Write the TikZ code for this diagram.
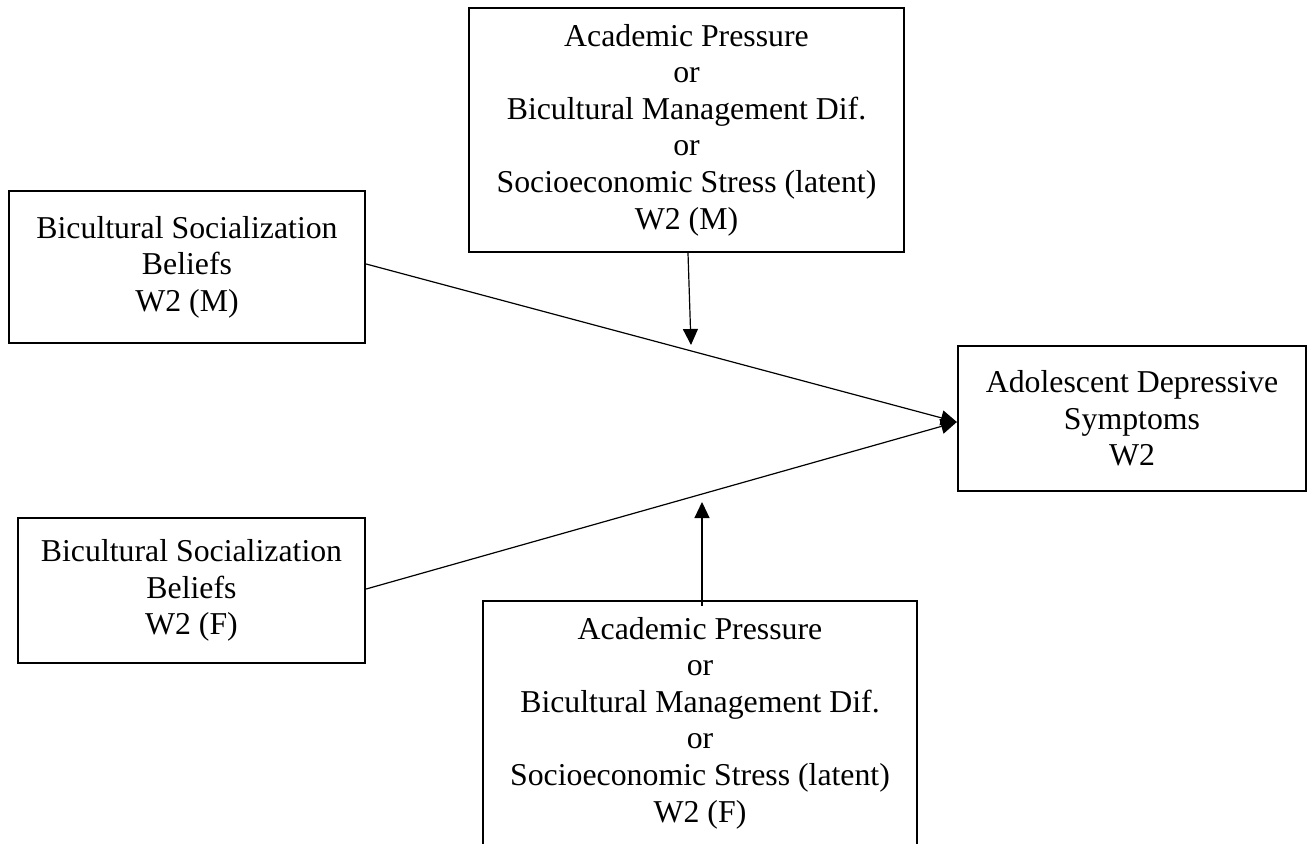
\documentclass[tikz,border=0pt]{standalone}
\usepackage{fontspec}
\setmainfont{Liberation Serif}
\usetikzlibrary{arrows.meta}
\begin{document}
\begin{tikzpicture}[x=1pt,y=-1pt,
  box/.style={draw,line width=2.3pt,inner sep=0pt,align=center,
    font=\fontsize{31.8}{36.6}\selectfont},
  link/.style={line width=1.2pt},
  arr/.style={link,-{Triangle[length=16pt,width=15pt]}}]
  \useasboundingbox (0,0) rectangle (1308,843);
  \clip (0,0) rectangle (1308,843);

  % moderator boxes
  \node[box,minimum width=435pt,minimum height=244pt] (modm) at (686.5,130)
    {Academic Pressure\\or\\Bicultural Management Dif.\\or\\Socioeconomic Stress (latent)\\W2 (M)};
  \node[box,minimum width=434pt,minimum height=244pt] (modf) at (700,723)
    {Academic Pressure\\or\\Bicultural Management Dif.\\or\\Socioeconomic Stress (latent)\\W2 (F)};

  % predictors
  \node[box,minimum width=356pt,minimum height=152pt] (bsm) at (187,267)
    {Bicultural Socialization\\Beliefs\\W2 (M)};
  \node[box,minimum width=347pt,minimum height=145pt] (bsf) at (191.5,590.5)
    {Bicultural Socialization\\Beliefs\\W2 (F)};

  % outcome
  \node[box,minimum width=348pt,minimum height=145pt] (dep) at (1132,418.5)
    {Adolescent Depressive\\Symptoms\\W2};

  % paths to the outcome (shifts are in page units, upward positive)
  \coordinate (tip) at ([yshift=-3.5pt]dep.west);
  \draw[arr] ([yshift=3pt]bsm.east) -- (tip);
  \draw[arr] ([yshift=1.5pt]bsf.east) -- (tip);

  % moderation arrows onto the paths
  \coordinate (mtip) at (691,345);
  \coordinate (ftip) at (702,502);
  \draw[arr] ([xshift=1.5pt]modm.south) -- (mtip);
  \draw[arr] ([xshift=2pt,yshift=-6pt]modf.north) -- (ftip);
\end{tikzpicture}
\end{document}
